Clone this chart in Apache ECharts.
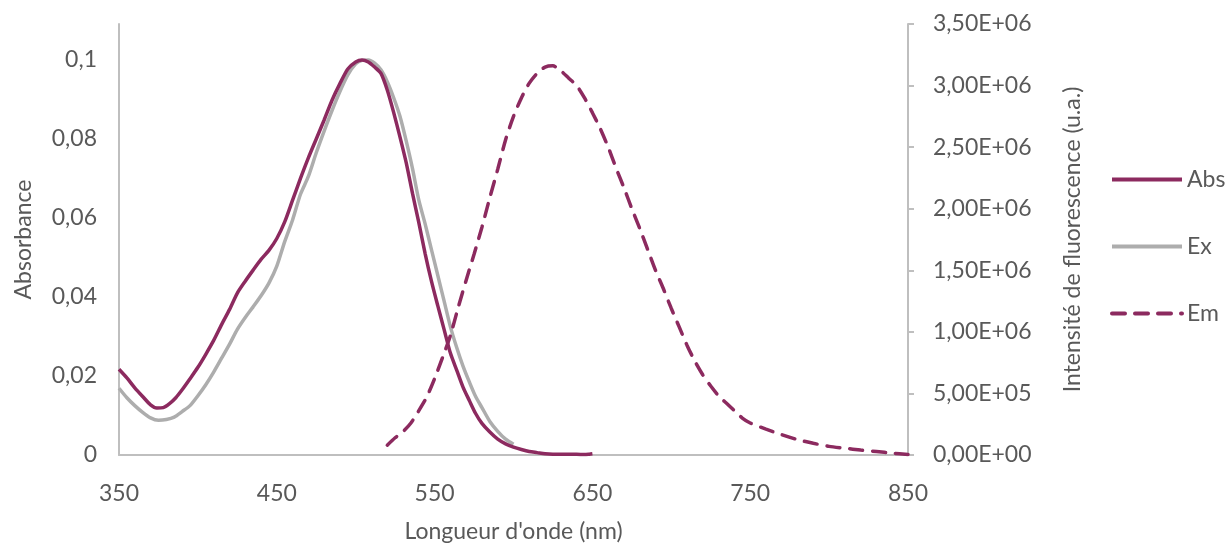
<!DOCTYPE html>
<html>
<head>
<meta charset="utf-8">
<script src="https://cdn.jsdelivr.net/npm/echarts@6/dist/echarts.min.js"></script>
<style>
html,body{margin:0;padding:0;background:#fff;}
#chart{width:1232px;height:548px;}
</style>
</head>
<body>
<div id="chart"></div>
<script>
// Wavelengths (nm) and values
const absX = [350,355,360,365,370,374,378,382,386,390,395,400,405,410,415,420,425,430,435,440,445,450,455,460,465,470,475,480,485,490,495,500,504,508,512,516,520,524,528,532,536,540,544,548,552,556,560,564,568,572,576,580,585,590,595,600,605,610,615,620,625,630,635,640,645,648,650];
const absY = [0.0217,0.0195,0.0170,0.0148,0.0127,0.0119,0.0120,0.0130,0.0145,0.0165,0.0193,0.0222,0.0255,0.0290,0.0330,0.0368,0.0410,0.0440,0.0468,0.0495,0.0518,0.0548,0.0590,0.0645,0.0700,0.0752,0.0800,0.0848,0.0898,0.0940,0.0977,0.0995,0.1000,0.0995,0.0982,0.0966,0.0924,0.0868,0.0806,0.0740,0.0662,0.0588,0.0510,0.0440,0.0378,0.0318,0.0258,0.0215,0.0172,0.0138,0.0105,0.0080,0.0058,0.0040,0.0028,0.0020,0.0014,0.0009,0.0006,0.0003,0.0002,0.0002,0.0002,0.0002,0.0001,0.0002,0.0003];

const exX = [350,355,360,365,370,375,380,385,390,395,400,405,410,415,420,425,430,435,440,445,450,455,460,465,470,475,480,485,490,495,500,504,508,512,516,520,524,528,532,536,540,544,548,552,556,560,564,568,572,576,580,585,590,595,600];
const exY = [0.0169,0.0145,0.0125,0.0108,0.0094,0.0088,0.0090,0.0096,0.0110,0.0125,0.0150,0.0178,0.0210,0.0245,0.0280,0.0318,0.0348,0.0375,0.0403,0.0435,0.0478,0.0540,0.0595,0.0660,0.0705,0.0765,0.0820,0.0872,0.0920,0.0962,0.0990,0.0999,0.1000,0.0992,0.0975,0.0945,0.0905,0.0858,0.0795,0.0725,0.0645,0.0585,0.0520,0.0455,0.0390,0.0325,0.0272,0.0225,0.0185,0.0148,0.0120,0.0085,0.0060,0.0040,0.0027];

const emX = [520,525,530,535,540,545,550,555,560,565,570,575,580,585,590,595,600,605,610,615,620,625,630,635,640,645,650,655,660,665,670,675,680,685,690,695,700,705,710,715,720,725,730,735,740,745,750,760,770,780,790,800,810,820,830,840,850];
const emY = [0.08e6,0.14e6,0.19e6,0.26e6,0.36e6,0.47e6,0.62e6,0.79e6,0.97e6,1.20e6,1.42e6,1.63e6,1.85e6,2.09e6,2.32e6,2.56e6,2.75e6,2.90e6,3.02e6,3.10e6,3.15e6,3.16e6,3.12e6,3.06e6,3.00e6,2.90e6,2.78e6,2.65e6,2.50e6,2.33e6,2.17e6,2.00e6,1.84e6,1.67e6,1.50e6,1.35e6,1.19e6,1.04e6,0.89e6,0.76e6,0.65e6,0.56e6,0.48e6,0.42e6,0.36e6,0.30e6,0.26e6,0.21e6,0.165e6,0.125e6,0.095e6,0.07e6,0.055e6,0.04e6,0.028e6,0.015e6,0.005e6];

const seriesNames = ['Abs','Ex','Em'];
const xTitle = "Longueur d'onde (nm)";
const yLeftTitle = 'Absorbance';
const yRightTitle = 'Intensité de fluorescence (u.a.)';

const zip = (xs, ys) => xs.map((x, i) => [x, ys[i]]);

const PURPLE = '#8C2A5F';
const GRAY = '#ADADAD';
const AXIS = '#BFBFBF';
const TEXT = '#595959';
const FONT = 'Lato';

function fmtLeft(v) {
  return String(+v.toFixed(4)).replace('.', ',');
}
function fmtSci(v) {
  if (v === 0) return '0,00E+00';
  const e = Math.floor(Math.log10(v) + 1e-9);
  const m = v / Math.pow(10, e);
  const es = (e < 10 ? '0' : '') + e;
  return m.toFixed(2).replace('.', ',') + 'E+' + es;
}

const chart = echarts.init(document.getElementById('chart'), null, {renderer: 'canvas'});
chart.setOption({
  animation: false,
  backgroundColor: '#ffffff',
  textStyle: {fontFamily: FONT},
  grid: {left: 119, right: 324, top: 24, bottom: 89, containLabel: false},
  legend: {
    data: seriesNames,
    orient: 'vertical',
    left: 1110,
    top: 168,
    padding: 0,
    itemWidth: 70,
    itemHeight: 14,
    itemGap: 44,
    itemStyle: {color: 'rgba(0,0,0,0)', borderColor: 'rgba(0,0,0,0)', borderWidth: 0, opacity: 0},
    lineStyle: {width: 4},
    textStyle: {fontSize: 23, color: TEXT, fontFamily: FONT}
  },
  xAxis: {
    type: 'value',
    min: 350, max: 850, interval: 100,
    name: xTitle,
    nameLocation: 'middle',
    nameGap: 65,
    nameTextStyle: {fontSize: 23, color: TEXT, fontFamily: FONT},
    axisLine: {show: true, lineStyle: {color: AXIS, width: 2}},
    axisTick: {show: false},
    splitLine: {show: false},
    axisLabel: {fontSize: 23, color: TEXT, margin: 27, fontFamily: FONT}
  },
  yAxis: [
    {
      type: 'value',
      position: 'left',
      min: 0, max: 0.1091, interval: 0.02,
      name: yLeftTitle,
      nameLocation: 'middle',
      nameRotate: 90,
      nameGap: 84,
      nameTextStyle: {fontSize: 23, color: TEXT, fontFamily: FONT},
      axisLine: {show: true, lineStyle: {color: AXIS, width: 2}},
      axisTick: {show: false},
      splitLine: {show: false},
      axisLabel: {fontSize: 23, color: TEXT, margin: 22, showMaxLabel: false, formatter: fmtLeft, fontFamily: FONT}
    },
    {
      type: 'value',
      position: 'right',
      min: 0, max: 3.5e6, interval: 5e5,
      name: yRightTitle,
      nameLocation: 'middle',
      nameRotate: 90,
      nameGap: 153,
      nameTextStyle: {fontSize: 23, color: TEXT, fontFamily: FONT},
      axisLine: {show: true, lineStyle: {color: AXIS, width: 2}},
      axisTick: {show: true, inside: false, length: 6, lineStyle: {color: AXIS, width: 2}},
      splitLine: {show: false},
      axisLabel: {fontSize: 23, color: TEXT, margin: 25, formatter: fmtSci, fontFamily: FONT}
    }
  ],
  series: [
    {
      name: seriesNames[1], type: 'line', yAxisIndex: 0,
      data: zip(exX, exY), symbol: 'none', smooth: 0.25,
      lineStyle: {color: GRAY, width: 3.5}, itemStyle: {color: GRAY}, z: 2
    },
    {
      name: seriesNames[0], type: 'line', yAxisIndex: 0,
      data: zip(absX, absY), symbol: 'none', smooth: 0.25,
      lineStyle: {color: PURPLE, width: 3.5}, itemStyle: {color: PURPLE}, z: 3
    },
    {
      name: seriesNames[2], type: 'line', yAxisIndex: 1,
      data: zip(emX, emY), symbol: 'none', smooth: 0.25,
      lineStyle: {color: PURPLE, width: 3.5, type: [13, 10], cap: 'round'}, itemStyle: {color: PURPLE}, z: 3
    }
  ]
});
</script>
</body>
</html>
